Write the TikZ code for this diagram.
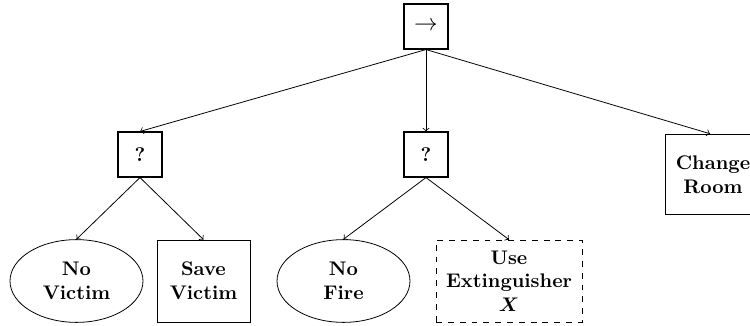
\documentclass[tikz,border=0pt]{standalone}
\usepackage{amsmath}
\usetikzlibrary{shapes.geometric}
\begin{document}
\begin{tikzpicture}[x=0.5076pt,y=-0.5076pt,
  ctrl/.style={draw,thick,minimum width=22.6pt,minimum height=22.6pt,inner sep=0pt,font=\bfseries},
  cond/.style={draw,ellipse,minimum width=67.5pt,minimum height=42pt,inner sep=1pt,align=center,font=\bfseries},
  act/.style={draw,minimum height=41.6pt,inner sep=2pt,align=center,font=\bfseries},
  conn/.style={->}]
\useasboundingbox (0,0) rectangle (750,326);
\node[ctrl] (root) at (426,26.5) {\large$\rightarrow$};
\node[ctrl] (qL) at (140,154.5) {?};
\node[ctrl] (qM) at (426,154.5) {?};
\node[act,minimum width=48.7pt,minimum height=41pt] (cr) at (713,174.5) {Change\\Room};
\node[cond] (nv) at (76.5,281) {No\\Victim};
\node[act,minimum width=47.2pt] (sv) at (203.5,281) {Save\\Victim};
\node[cond] (nf) at (343.5,281) {No\\Fire};
\node[act,dashed,minimum width=74pt] (ue) at (509,281) {Use\\Extinguisher\\$\boldsymbol{X}$};
\draw[conn] (root.south) -- (qL.north);
\draw[conn] (root.south) -- (qM.north);
\draw[conn] (root.south) -- ([xshift=-1.5pt]cr.north);
\draw[conn] (qL.south) -- (nv.north);
\draw[conn] (qL.south) -- (sv.north);
\draw[conn] (qM.south) -- (nf.north);
\draw[conn] (qM.south) -- (ue.north);
\end{tikzpicture}
\end{document}
